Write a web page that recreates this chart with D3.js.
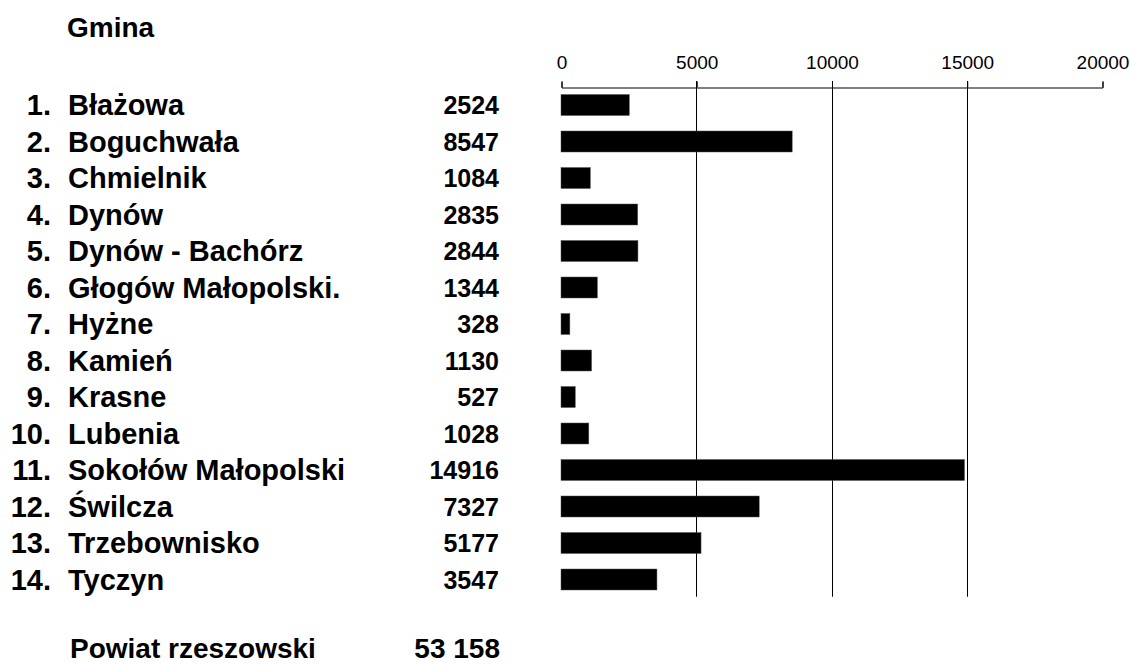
<!DOCTYPE html>
<html>
<head>
<meta charset="utf-8">
<script src="https://cdn.jsdelivr.net/npm/d3@7"></script>
<style>
  body { margin: 0; background: #fff; }
  svg text { font-family: "Liberation Sans", Arial, sans-serif; fill: #000; }
</style>
</head>
<body>
<div id="chart"></div>
<script>
// Gminy powiatu rzeszowskiego
var gminy = ["Błażowa", "Boguchwała", "Chmielnik", "Dynów", "Dynów - Bachórz",
             "Głogów Małopolski.", "Hyżne", "Kamień", "Krasne", "Lubenia",
             "Sokołów Małopolski", "Świlcza", "Trzebownisko", "Tyczyn"];
var wartosci = [2524, 8547, 1084, 2835, 2844, 1344, 328, 1130, 527, 1028, 14916, 7327, 5177, 3547];
var ticki = [0, 5000, 10000, 15000, 20000];
var siatka = [5000, 10000, 15000];

var width = 1130, height = 665;

var svg = d3.select('#chart').append('svg')
    .attr('width', width)
    .attr('height', height);

var x = d3.scaleLinear()
    .domain([0, 20000])
    .range([561, 1102]);

var y = d3.scaleBand()
    .domain(gminy)
    .range([86.75, 86.75 + gminy.length * 36.5])
    .paddingInner(0.425)
    .paddingOuter(0.2125);

// Naglowek
svg.append('text')
    .attr('x', 67)
    .attr('y', 37)
    .attr('font-size', '28px')
    .attr('font-weight', 'bold')
    .text('Gmina');

// Linie siatki
svg.selectAll('.grid')
    .data(siatka)
    .enter()
    .append('line')
    .attr('class', 'grid')
    .attr('x1', d => Math.round(x(d)) + 0.5)
    .attr('x2', d => Math.round(x(d)) + 0.5)
    .attr('y1', 81)
    .attr('y2', y.range()[1] - 1)
    .attr('stroke', '#000')
    .attr('stroke-width', 1);

// Os na gorze
var axis = svg.append('g')
    .attr('transform', 'translate(0.5,87.5)')
    .call(d3.axisTop(x)
        .tickValues(ticki)
        .tickSize(6)
        .tickPadding(13)
        .tickFormat(d3.format('d')));
axis.selectAll('text')
    .attr('font-size', '19px')
    .attr('font-family', '"Liberation Sans", Arial, sans-serif');
axis.selectAll('path, line').attr('stroke', '#000');

// Slupki
svg.selectAll('.bar')
    .data(wartosci)
    .enter()
    .append('rect')
    .attr('class', 'bar')
    .attr('x', x(0))
    .attr('y', (d, i) => y(gminy[i]))
    .attr('width', d => x(d) - x(0))
    .attr('height', y.bandwidth())
    .attr('fill', '#000')
    .attr('stroke', '#555')
    .attr('stroke-width', 0.5);

// Wiersze tabeli
var wiersz = svg.selectAll('.row')
    .data(gminy)
    .enter()
    .append('g')
    .attr('class', 'row')
    .attr('transform', d => 'translate(0,' + (y(d) + y.bandwidth() / 2 + 10) + ')');

wiersz.append('text')
    .attr('x', 51)
    .attr('text-anchor', 'end')
    .attr('font-size', '29px')
    .attr('font-weight', 'bold')
    .text((d, i) => (i + 1) + '.');

wiersz.append('text')
    .attr('x', 68)
    .attr('font-size', '29px')
    .attr('font-weight', 'bold')
    .text(d => d);

wiersz.append('text')
    .attr('x', 499)
    .attr('dy', -1)
    .attr('text-anchor', 'end')
    .attr('font-size', '25px')
    .attr('font-weight', 'bold')
    .text((d, i) => wartosci[i]);

// Suma
var suma = d3.sum(wartosci);
var fmt = d3.formatLocale({ decimal: ',', thousands: ' ', grouping: [3], currency: ['', ''] }).format(',d');

svg.append('text')
    .attr('x', 70)
    .attr('y', 658)
    .attr('font-size', '28px')
    .attr('font-weight', 'bold')
    .text('Powiat rzeszowski');

svg.append('text')
    .attr('x', 500)
    .attr('y', 658)
    .attr('text-anchor', 'end')
    .attr('font-size', '28px')
    .attr('font-weight', 'bold')
    .text(fmt(suma));
</script>
</body>
</html>
